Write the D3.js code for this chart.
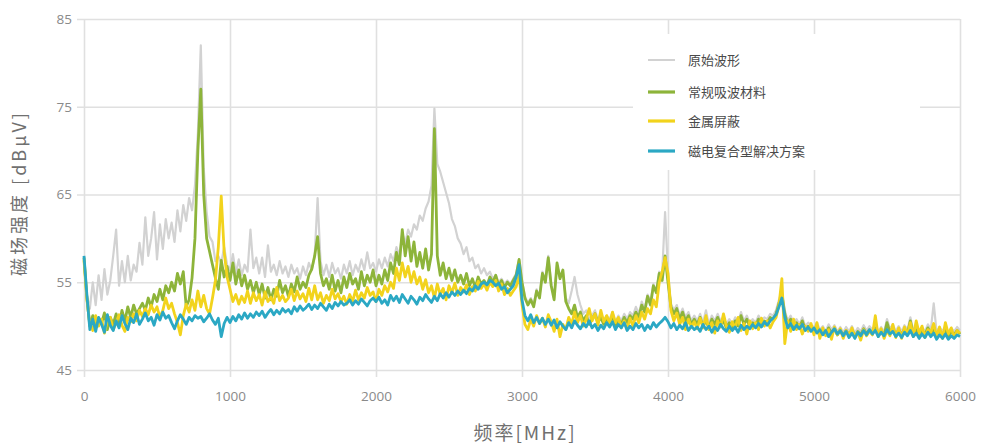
<!DOCTYPE html>
<html>
<head>
<meta charset="utf-8">
<script src="https://cdn.jsdelivr.net/npm/d3@7"></script>
<style>
  body { margin: 0; background: #fff; }
  svg { display: block; }
</style>
</head>
<body>
<svg id="chart" width="984" height="447"></svg>
<script>
// sample grid: 0..6000 MHz every 20 MHz
const freqStep = 20;
const freqs = d3.range(0, 6001, freqStep);

const xTicks = [0, 1000, 2000, 3000, 4000, 5000, 6000];
const yTicks = [45, 55, 65, 75, 85];

const seriesNames = ["原始波形", "常规吸波材料", "金属屏蔽", "磁电复合型解决方案"];
const seriesColors = ["#d2d2d2", "#8db43a", "#f2d31c", "#2ba8c4"];

// 原始波形
const origWave = [
  57.0, 53.5, 52.0, 55.0, 52.4, 55.8, 53.0, 56.5, 53.6, 55.2,
  58.0, 61.0, 54.6, 57.4, 55.0, 58.0, 55.2, 57.0, 56.2, 59.5,
  57.0, 62.4, 58.0, 60.0, 63.0, 57.6, 61.6, 58.8, 62.2, 60.0,
  61.8, 59.6, 63.2, 60.8, 63.8, 62.0, 64.6, 63.2, 66.0, 72.0,
  82.0, 68.0, 63.0, 60.2, 59.6, 57.4, 58.0, 57.2, 59.0, 57.0,
  56.4, 58.2, 56.0, 57.6, 55.8, 57.0, 56.2, 61.0, 56.6, 57.8,
  56.0, 57.8, 55.6, 59.2, 56.2, 57.0, 55.8, 57.4, 56.0, 56.8,
  55.6, 57.0, 56.0, 56.6, 55.4, 56.8, 55.8, 57.2, 56.4, 58.0,
  64.6, 57.4, 55.8, 57.0, 55.6, 57.2, 56.0, 56.6, 55.4, 57.0,
  56.0, 57.4, 55.8, 57.0, 56.2, 57.6, 56.4, 58.4, 56.6, 57.2,
  56.2, 57.6, 56.6, 57.8, 56.8, 58.2, 57.4, 59.0, 58.0, 60.6,
  59.4, 61.0, 60.2, 61.6, 61.0, 62.6, 62.0, 63.4, 64.2, 66.0,
  74.8, 68.5, 67.6, 66.4, 65.2, 64.0, 62.2, 61.4, 60.0, 59.4,
  58.2, 59.0, 57.4, 57.8, 56.6, 57.0, 56.0, 56.6, 55.8, 56.2,
  55.4, 55.8, 55.0, 55.4, 54.8, 55.2, 54.8, 55.4, 56.0, 57.6,
  55.2, 53.4, 52.6, 53.2, 52.4, 54.2, 53.4, 56.2, 55.2, 58.0,
  54.8, 53.2, 57.0, 55.6, 56.2, 53.2, 52.6, 54.0, 55.6, 53.6,
  52.4, 51.4, 51.8, 50.8, 51.2, 51.8, 50.8, 51.4, 50.6, 51.2,
  50.8, 51.6, 50.4, 51.2, 50.6, 51.4, 50.8, 51.6, 51.2, 52.2,
  51.4, 52.8, 52.0, 53.6, 52.8, 54.8, 54.0, 56.2, 56.0, 63.0,
  56.2, 52.6, 51.8, 52.4, 51.2, 52.0, 51.0, 51.6, 50.6, 51.2,
  50.6, 51.4, 50.4, 51.8, 50.2, 51.2, 50.6, 51.4, 50.6, 51.0,
  50.2, 50.8, 50.2, 51.0, 50.4, 51.6, 50.6, 51.2, 50.3, 50.8,
  50.4, 51.2, 50.6, 51.0, 50.8, 51.4, 51.2, 51.8, 53.0, 54.0,
  51.8, 50.6, 51.2, 50.3, 50.8, 50.2, 51.0, 50.0, 50.4, 50.1,
  49.9, 50.4, 49.6, 50.0, 49.4, 50.2, 49.6, 50.1, 49.4, 49.9,
  49.3, 49.9, 49.4, 50.0, 49.2, 49.8, 49.4, 50.1, 49.5, 50.0,
  49.6, 50.2, 49.4, 49.9, 49.3, 50.8, 49.7, 50.2, 49.4, 50.0,
  49.4, 50.1, 49.6, 51.0, 49.5, 50.0, 49.3, 49.9, 49.4, 50.2,
  49.6, 52.6, 49.3, 49.9, 49.4, 50.0, 49.2, 49.8, 49.4, 49.9,
  49.5
];

// 常规吸波材料
const absorber = [
  57.8, 53.2, 50.0, 51.2, 49.8, 50.9, 50.3, 51.5, 49.6, 51.0,
  50.2, 51.4, 50.0, 51.8, 50.6, 52.2, 51.0, 52.4, 51.4, 52.0,
  52.6, 51.8, 53.2, 52.2, 53.6, 52.8, 54.2, 53.0, 54.6, 53.8,
  55.0, 54.0, 56.0, 54.8, 56.2, 52.2, 53.0, 55.5, 60.0, 70.0,
  77.0, 65.0, 60.0, 58.5, 57.0, 55.5, 54.2, 57.5, 55.6, 56.8,
  55.2, 57.2, 54.8, 56.4, 54.6, 55.8, 54.2, 55.2, 53.8, 55.0,
  53.6, 54.8, 53.2, 54.4, 53.0, 54.2, 53.4, 55.2, 53.8, 54.6,
  53.4, 54.8, 53.9, 55.6, 54.2, 55.0, 54.4, 55.8, 56.5, 58.0,
  60.2, 56.0, 54.6, 55.4, 54.2, 55.8, 54.0, 55.2, 53.8, 55.6,
  54.4, 56.0, 54.8, 55.4, 54.2, 56.2, 54.6, 55.8, 55.0, 56.4,
  54.6, 55.8, 54.8, 56.4, 55.2, 57.2, 56.0, 58.4, 57.0, 61.0,
  58.0, 60.2, 57.4, 59.6, 56.8, 58.4, 56.6, 58.8, 56.4, 58.2,
  72.5, 58.0, 55.8, 57.2, 55.4, 56.6, 55.2, 56.4, 55.0, 55.8,
  54.8, 56.0, 54.6, 55.4, 54.4, 55.6, 54.8, 55.2, 54.6, 55.6,
  55.0, 55.8, 54.6, 55.2, 54.4, 55.0, 54.6, 55.2, 55.8, 57.6,
  55.0, 53.2, 52.4, 53.0, 52.2, 54.0, 53.2, 56.0, 55.0, 57.8,
  54.6, 53.0, 57.2, 55.4, 56.4, 52.8, 52.0, 51.4, 52.4, 51.0,
  51.6, 50.6, 51.2, 50.2, 50.8, 51.4, 50.4, 51.0, 50.2, 50.9,
  50.4, 51.2, 50.0, 50.8, 50.2, 51.0, 50.4, 51.2, 50.8, 51.6,
  51.0, 52.4, 51.6, 53.4, 52.4, 54.6, 53.8, 56.0, 55.2, 58.0,
  55.0, 52.2, 51.4, 52.0, 50.8, 51.6, 50.6, 51.2, 50.2, 50.8,
  50.2, 51.0, 50.0, 50.6, 49.8, 50.8, 50.2, 51.0, 50.2, 50.6,
  49.8, 50.4, 49.8, 50.6, 50.0, 51.2, 50.2, 50.8, 49.9, 50.4,
  50.0, 50.8, 50.2, 50.6, 50.4, 51.0, 50.8, 51.4, 52.6, 53.6,
  51.4, 50.2, 50.8, 49.9, 50.4, 49.8, 50.6, 49.6, 50.0, 49.7,
  49.5, 50.0, 49.2, 49.6, 49.0, 49.8, 49.2, 49.7, 49.0, 49.5,
  48.9, 49.5, 49.0, 49.6, 48.8, 49.4, 49.0, 49.7, 49.1, 49.6,
  49.2, 49.8, 49.0, 49.5, 48.9, 50.4, 49.3, 49.8, 49.0, 49.6,
  49.0, 49.7, 49.2, 50.6, 49.1, 49.6, 48.9, 49.5, 49.0, 49.8,
  49.2, 49.7, 48.9, 49.5, 49.0, 49.6, 48.8, 49.4, 49.0, 49.5,
  49.1
];

// 金属屏蔽
const metalShield = [
  57.5, 53.0, 50.2, 49.5, 51.2, 50.0, 50.8, 49.2, 50.6, 51.0,
  49.6, 50.4, 51.3, 50.1, 49.4, 51.0, 50.5, 51.4, 50.6, 51.8,
  51.1, 52.0, 51.3, 52.4, 51.6, 52.2, 51.0, 51.8, 53.2, 52.0,
  52.6, 51.4, 50.4, 49.0, 51.2, 52.5, 51.6, 53.0, 51.8, 54.0,
  52.2, 53.5, 52.0, 51.4, 53.2, 55.2, 59.0, 64.8, 58.5, 55.6,
  54.2, 52.8, 53.6, 52.5, 53.4, 52.7, 54.0, 52.6, 53.8, 52.9,
  53.6, 52.4, 53.9, 52.8, 53.3, 52.6, 54.4, 52.9, 53.5, 52.8,
  53.2, 54.2, 52.9, 54.0, 53.1, 53.7, 52.8, 54.3, 53.0, 54.6,
  53.0, 53.8, 52.6, 53.5, 52.9, 54.2, 53.1, 53.7, 52.8, 53.4,
  52.5, 53.6, 52.8, 54.1, 53.0, 53.8, 53.2, 54.4, 53.5, 53.9,
  52.8, 54.2, 53.5, 54.6, 53.9, 55.0, 54.3, 56.6, 55.2, 57.2,
  55.6, 56.8, 55.0, 56.2, 54.8, 55.6, 54.2, 55.3, 53.8, 54.6,
  53.2, 54.8, 53.6, 54.3, 53.0, 54.6, 53.8, 54.9, 53.5, 54.4,
  53.9, 54.7, 53.6, 54.5, 54.0, 55.1, 54.3, 54.8, 54.1, 55.0,
  54.5, 55.2, 54.0, 54.8, 53.6, 54.3, 53.5, 54.0, 54.5, 55.8,
  52.5, 50.2, 49.6, 50.8, 50.0, 51.2, 50.3, 50.9, 49.9, 51.3,
  50.5, 49.4, 50.8, 48.8, 50.2, 49.6, 51.0, 50.2, 51.6, 50.4,
  51.2, 50.0, 50.8, 52.0, 50.6, 51.4, 50.1, 51.8, 50.5, 51.2,
  50.3, 51.6, 50.4, 51.0, 49.8, 50.6, 49.6, 50.9, 50.0, 51.2,
  50.4, 51.6, 50.8, 52.0, 51.4, 53.0, 52.2, 55.0, 56.2, 57.8,
  56.0, 51.8, 50.6, 51.5, 50.2, 51.0, 49.6, 50.8, 49.9, 50.5,
  49.7, 50.9, 49.8, 51.2, 49.6, 50.4, 49.2, 50.6, 49.9, 51.4,
  50.0, 49.3, 50.5, 49.8, 51.0, 49.5, 50.3, 49.1, 50.6, 49.7,
  50.4, 49.6, 50.9, 50.0, 50.6, 49.8, 50.5, 51.0, 52.4, 55.4,
  48.0, 50.6, 49.4, 50.8, 49.6, 50.2, 49.1, 50.0, 49.4, 50.3,
  49.0, 50.4, 48.6, 49.8, 48.9, 49.6, 48.5, 49.9, 49.0, 49.7,
  48.6, 49.5, 48.9, 49.8, 48.7, 49.3, 48.4, 49.6, 48.9, 49.4,
  49.0, 51.2, 48.8, 49.7, 48.6, 49.5, 48.9, 50.2, 48.7, 49.8,
  48.6, 49.9, 49.0, 50.4, 48.8, 50.6, 49.2, 50.0, 48.7, 49.6,
  49.3, 50.3, 48.8, 49.9, 48.6, 50.4, 49.1, 49.8, 48.7, 49.5,
  49.2
];

// 磁电复合型解决方案
const hybrid = [
  58.0, 53.5, 49.6, 50.8, 49.4, 51.0, 50.2, 49.3, 51.3, 50.1,
  49.5, 50.6, 49.8, 51.2, 50.3, 49.6, 50.9, 50.4, 51.4, 50.2,
  50.8, 51.5, 50.6, 51.0, 50.1, 51.3, 50.7, 51.6, 50.9, 51.2,
  50.4, 49.7, 50.6, 51.3, 50.8, 50.2, 51.0, 50.6, 51.2, 50.9,
  51.1, 50.5, 50.9, 51.4, 50.7, 50.2, 50.9, 48.8, 50.3, 51.0,
  50.4, 51.1, 50.6, 51.3, 50.8, 51.5, 50.9, 51.4, 51.0, 51.6,
  51.2, 51.7, 51.0, 51.5, 51.9, 51.3, 51.8, 51.4, 52.0, 51.6,
  51.9, 51.4, 52.2, 51.7, 52.3, 51.8, 52.1, 52.5, 51.9, 52.4,
  52.0, 52.6, 52.2, 51.8, 52.5, 52.0, 52.7, 52.3, 52.8, 52.4,
  52.6, 53.0, 52.4, 52.9, 52.5, 53.1, 52.7, 52.3, 52.9, 53.2,
  52.8, 53.3, 52.6, 53.0, 52.4, 53.5, 52.9, 53.4, 52.7, 53.6,
  53.1, 52.6, 53.4, 53.0, 52.5, 53.3, 52.9, 53.6, 53.1, 52.7,
  53.4, 52.9, 53.7, 53.2, 53.8, 53.3, 53.9, 53.5, 54.0, 53.6,
  54.1, 53.7, 54.3, 54.0, 54.6, 54.2, 54.8, 55.0, 54.7, 55.2,
  55.0, 54.6, 54.9, 54.2, 54.5, 53.8, 54.2, 54.6, 55.6, 57.0,
  53.0, 51.2, 50.6, 51.3, 50.4, 51.0, 50.3, 50.9, 50.2, 50.8,
  50.1, 50.7, 49.8, 50.5, 50.0, 49.6, 50.4, 49.8, 50.6, 50.1,
  49.7, 50.3, 49.9, 50.6, 49.8, 50.2, 49.5, 50.1, 49.7, 50.4,
  49.9, 50.5, 49.6, 50.2, 49.8, 50.4, 49.5, 50.0, 49.6, 50.3,
  49.8, 50.2, 49.5, 50.1, 49.7, 50.4, 49.9, 50.3, 50.6, 51.0,
  50.5, 49.8, 50.3, 49.6, 50.1, 49.7, 50.4, 49.5, 50.0, 49.6,
  49.9, 49.4, 50.2, 49.6, 50.0, 49.3, 49.9, 49.5, 50.2, 49.7,
  49.4, 50.0, 49.5, 49.9, 49.3, 50.1, 49.6, 50.0, 49.7, 50.2,
  49.8, 50.3, 49.9, 50.5, 50.1, 50.6, 50.9, 51.3, 52.2, 53.2,
  51.0, 49.8, 50.3, 49.6, 50.1, 49.7, 50.2, 49.5, 49.9, 49.4,
  49.8, 49.2, 49.6, 49.0, 49.5, 48.8, 49.3, 49.7, 49.1, 49.5,
  48.9, 49.4, 48.7, 49.2, 48.6, 49.3, 48.9, 49.5, 49.0, 49.6,
  49.1, 49.5, 48.8, 49.3, 48.9, 49.6, 49.1, 49.4, 48.8, 49.2,
  48.7, 49.3, 48.9, 49.5, 48.8, 49.2, 48.6, 49.1, 48.7, 49.3,
  48.8, 49.2, 48.5, 49.0, 48.6, 49.1, 48.5, 48.9, 48.6, 49.0,
  48.8
];

const allSeries = [origWave, absorber, metalShield, hybrid];

const svg = d3.select("#chart");
const margin = { top: 19, right: 24, bottom: 77, left: 84 };
const width = 984 - margin.left - margin.right;
const height = 447 - margin.top - margin.bottom;

const x = d3.scaleLinear().domain([0, 6000]).range([0, width]);
const y = d3.scaleLinear().domain([45, 85]).range([height, 0]);

const g = svg.append("g")
  .attr("transform", `translate(${margin.left},${margin.top})`);

// grid + tick labels
const yAxis = g.append("g")
  .attr("transform", "translate(-7,0)")
  .call(d3.axisLeft(y).tickValues(yTicks).tickSize(-(width + 7)).tickPadding(5));
const xAxis = g.append("g")
  .attr("transform", `translate(0,${height + 7})`)
  .call(d3.axisBottom(x).tickValues(xTicks).tickFormat(d3.format("d"))
    .tickSize(-(height + 7)).tickPadding(14));

[xAxis, yAxis].forEach(a => {
  a.select(".domain").remove();
  a.selectAll(".tick line").attr("stroke", "#e0e0e0").attr("stroke-width", 1.6);
  a.selectAll(".tick text")
    .attr("fill", "#8a8a8a")
    .style("font-family", "'Open Sans', sans-serif")
    .style("font-size", "13.5px");
});

// lines
const line = d3.line()
  .x((d, i) => x(freqs[i]))
  .y(d => y(d));

g.selectAll(".series")
  .data(allSeries)
  .join("path")
  .attr("class", "series")
  .attr("fill", "none")
  .attr("stroke", (d, i) => seriesColors[i])
  .attr("stroke-width", (d, i) => i === 0 ? 2.2 : 2.8)
  .attr("stroke-linejoin", "round")
  .attr("d", line);

// legend (white box hides the grid behind it)
const legend = svg.append("g");
legend.append("rect")
  .attr("x", 633).attr("y", 34)
  .attr("width", 287).attr("height", 136)
  .attr("fill", "#fff");

const legendY = [60, 92, 121, 151];
seriesNames.forEach((name, i) => {
  legend.append("line")
    .attr("x1", 648).attr("x2", 675)
    .attr("y1", legendY[i]).attr("y2", legendY[i])
    .attr("stroke", seriesColors[i])
    .attr("stroke-width", i === 0 ? 2 : 3.2);
  legend.append("text")
    .attr("x", 688).attr("y", legendY[i])
    .attr("dy", "0.35em")
    .attr("fill", "#4a4a4a")
    .style("font-family", "'Noto Sans CJK SC', sans-serif")
    .style("font-size", "13px")
    .text(name);
});

// axis titles
svg.append("text")
  .attr("transform", "translate(20,193) rotate(-90)")
  .attr("text-anchor", "middle")
  .attr("dy", "0.35em")
  .attr("fill", "#707070")
  .style("font-family", "'Noto Sans CJK SC', sans-serif")
  .style("font-size", "18px")
  .style("letter-spacing", "3px")
  .text("磁场强度 [dBμV]");

svg.append("text")
  .attr("x", 525).attr("y", 433)
  .attr("text-anchor", "middle")
  .attr("dy", "0.35em")
  .attr("fill", "#707070")
  .style("font-family", "'Noto Sans CJK SC', sans-serif")
  .style("font-size", "19px")
  .style("letter-spacing", "2px")
  .text("频率[MHz]");
</script>
</body>
</html>
